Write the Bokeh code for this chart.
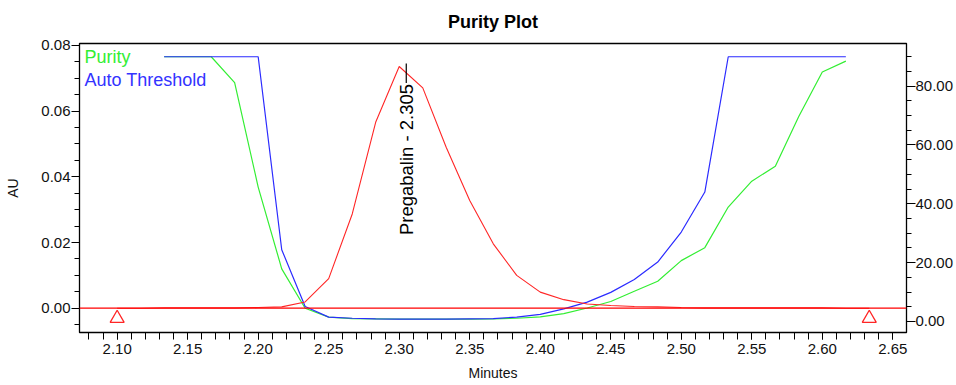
import math
from bokeh.plotting import figure
from bokeh.models import (Range1d, LinearAxis, FixedTicker, NumeralTickFormatter,
                          Label, Span, ColumnDataSource)
from bokeh.embed import file_html
from bokeh.resources import INLINE

# ---------------- data ----------------
time = [2.1000, 2.1167, 2.1333, 2.1500, 2.1667, 2.1833, 2.2000, 2.2167, 2.2333,
        2.2500, 2.2667, 2.2833, 2.3000, 2.3167, 2.3333, 2.3500, 2.3667, 2.3833,
        2.4000, 2.4167, 2.4333, 2.4500, 2.4667, 2.4833, 2.5000, 2.5167, 2.5333,
        2.5500, 2.5667, 2.5833, 2.6000, 2.6167, 2.6333]
au = [0.0000, 0.0000, 0.0001, 0.0001, 0.0001, 0.0001, 0.0002, 0.0004, 0.0019,
      0.0090, 0.0287, 0.0566, 0.0736, 0.0671, 0.0490, 0.0328, 0.0196, 0.0100,
      0.0049, 0.0026, 0.0013, 0.0008, 0.0005, 0.0004, 0.0002, 0.0001, 0.0001,
      0.0001, 0.0001, 0.0001, 0.0001, 0.0000, 0.0000]

angle_time = time[2:32]
purity_angle = [90.0, 90.0, 90.0, 81.2, 45.7, 17.9, 4.5, 1.5, 1.0, 0.9, 0.8, 0.8,
                0.8, 0.8, 0.9, 1.1, 1.6, 2.7, 4.6, 6.8, 10.3, 13.7, 20.7, 25.1,
                38.9, 47.7, 52.8, 69.7, 84.8, 88.5]
threshold_angle = [90.0, 90.0, 90.0, 90.0, 90.0, 24.4, 5.1, 1.5, 1.1, 0.9, 0.8, 0.8,
                   0.8, 0.9, 1.0, 1.5, 2.4, 4.3, 6.6, 9.9, 14.3, 20.2, 30.4, 44.0,
                   90.0, 90.0, 90.0, 90.0, 90.0, 90.0]

peak_name = "Pregabalin"
peak_rt = 2.305
integration_marks = [2.1000, 2.6333]

x_ticks = [2.10, 2.15, 2.20, 2.25, 2.30, 2.35, 2.40, 2.45, 2.50, 2.55, 2.60, 2.65]
au_ticks = [0.00, 0.02, 0.04, 0.06, 0.08]
angle_ticks = [0, 20, 40, 60, 80]

# ---------------- figure ----------------
FONT = "Liberation Sans"
RED = "#ff2626"
GREEN = "#33ee33"
BLUE = "#2b2bff"

p = figure(width=956, height=385, output_backend="svg", toolbar_location=None,
           x_range=Range1d(2.0733, 2.6597), y_range=Range1d(-0.0074, 0.0806),
           min_border_left=79, min_border_right=49, min_border_top=43,
           min_border_bottom=53)
p.extra_y_ranges = {"angle": Range1d(-3.74, 94.5)}
p.background_fill_color = "white"
p.border_fill_color = "white"
p.outline_line_color = "black"
p.outline_line_width = 1.3
p.xgrid.visible = False
p.ygrid.visible = False

p.title.text = "Purity Plot"
p.title.align = "center"
p.title.vertical_align = "top"
p.title.text_font = FONT
p.title.text_font_size = "18px"
p.title.text_font_style = "bold"
p.title.text_color = "black"
p.title.standoff = 20

def style_axis(ax, minor_out):
    ax.major_label_text_font = FONT
    ax.major_label_text_font_size = "15px"
    ax.major_label_text_color = "#111111"
    ax.axis_label_text_font = FONT
    ax.axis_label_text_font_size = "14px"
    ax.axis_label_text_font_style = "normal"
    ax.axis_label_text_color = "#111111"
    ax.axis_line_color = "black"
    ax.major_tick_line_color = "black"
    ax.minor_tick_line_color = "black"
    ax.major_tick_in = 0
    ax.minor_tick_in = 0
    ax.minor_tick_out = minor_out

# x axis
xa = p.xaxis[0]
xa.ticker = FixedTicker(ticks=x_ticks,
                        minor_ticks=[2.08 + i * 0.01 for i in range(59)])
xa.formatter = NumeralTickFormatter(format="0.00")
xa.axis_label = "Minutes"
style_axis(xa, 7)
xa.major_tick_out = 7
xa.major_label_standoff = 4
xa.axis_label_standoff = 8

# left axis
ya = p.yaxis[0]
ya.ticker = FixedTicker(ticks=au_ticks,
                        minor_ticks=[-0.005 + i * 0.005 for i in range(18)])
ya.formatter = NumeralTickFormatter(format="0.00")
ya.axis_label = "AU"
style_axis(ya, 5)
ya.major_tick_out = 8
ya.major_label_standoff = 1
ya.axis_label_standoff = 17

# right axis
ra = LinearAxis(y_range_name="angle")
ra.ticker = FixedTicker(ticks=angle_ticks,
                        minor_ticks=[-5 + i * 5 for i in range(21)])
ra.formatter = NumeralTickFormatter(format="0.00")
style_axis(ra, 5)
ra.major_tick_out = 9
ra.major_label_standoff = 0
p.add_layout(ra, "right")

# ---------------- glyphs ----------------
p.add_layout(Span(location=0, dimension="width", line_color="#ff0000", line_width=1.2))

ang = ColumnDataSource(dict(t=angle_time, purity=purity_angle, thr=threshold_angle))
p.line("t", "purity", source=ang, y_range_name="angle", line_color=GREEN, line_width=1.2)
p.line("t", "thr", source=ang, y_range_name="angle", line_color=BLUE, line_width=1.2)

chrom = ColumnDataSource(dict(t=time, au=au))
p.line("t", "au", source=chrom, line_color=RED, line_width=1.1)

# integration start / end markers
p.scatter(integration_marks, [-0.0031] * len(integration_marks), marker="triangle",
          size=14, fill_color=None, line_color=RED, line_width=1.3)

# peak label and tick
apex = max(au)
p.segment(x0=[peak_rt], y0=[apex - 0.0050], x1=[peak_rt], y1=[apex + 0.0009],
          line_color="black", line_width=1.2)
p.add_layout(Label(x=peak_rt, y=apex - 0.0053, text=f"{peak_name} - {peak_rt:.3f}",
                   angle=math.pi / 2, text_align="right", text_baseline="middle",
                   text_font=FONT, text_font_size="18.5px", text_color="black"))

# legend (text only)
p.add_layout(Label(x=5, y=276, x_units="screen", y_units="screen", text="Purity",
                   text_baseline="alphabetic", text_font=FONT, text_font_size="18px",
                   text_color="#33ee33"))
p.add_layout(Label(x=5, y=253, x_units="screen", y_units="screen", text="Auto Threshold",
                   text_baseline="alphabetic", text_font=FONT, text_font_size="18px",
                   text_color="#3333ff"))

open("out.html", "w").write(file_html(p, INLINE))
